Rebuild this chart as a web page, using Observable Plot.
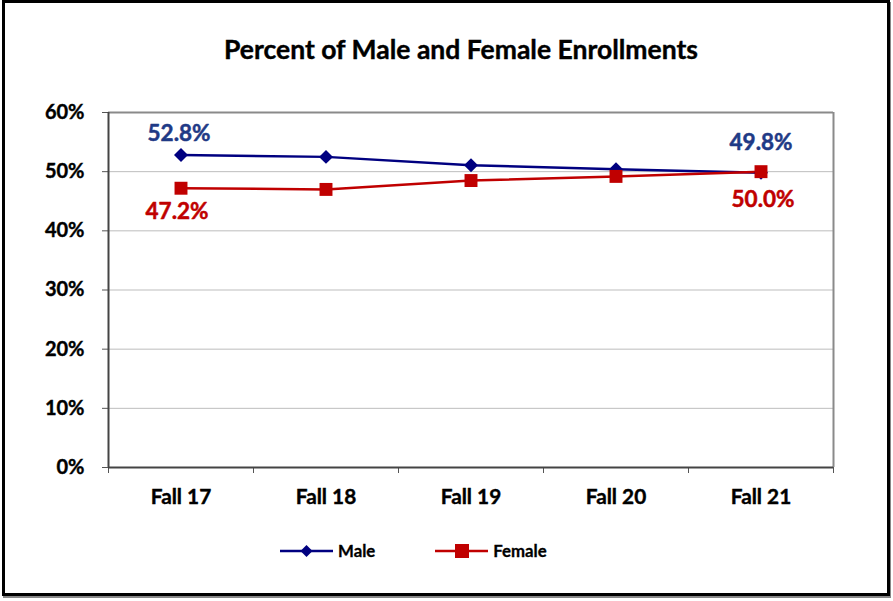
<!DOCTYPE html>
<html>
<head>
<meta charset="utf-8">
<script src="https://cdn.jsdelivr.net/npm/d3@7"></script>
<script src="https://cdn.jsdelivr.net/npm/@observablehq/plot@0.6"></script>
<style>
  html, body { margin: 0; padding: 0; background: #fff; }
  #wrap { position: relative; width: 893px; height: 601px; overflow: hidden; font-family: Lato, "Open Sans", sans-serif; }
  #frame { position: absolute; left: 2px; top: 0px; width: 882px; height: 590px; border: 3px solid #000; box-shadow: 1px 2px 0 #888; }
  #title { position: absolute; left: 0; width: 922px; top: 33px; text-align: center; font-weight: 700; font-size: 26.5px; color: #000; -webkit-text-stroke: 0.4px #000; }
  #legend { position: absolute; left: 280px; top: 540px; display: flex; gap: 60px; font-weight: 700; font-size: 16.8px; color: #000; -webkit-text-stroke: 0.3px #000; }
  .item { display: flex; align-items: center; gap: 5px; }
  #chart { position: absolute; left: 0; top: 0; }
</style>
</head>
<body>
<div id="wrap">
  <div id="chart"></div>
  <div id="frame"></div>
  <div id="title">Percent of Male and Female Enrollments</div>
  <div id="legend"></div>
</div>
<script>
const categories = ["Fall 17", "Fall 18", "Fall 19", "Fall 20", "Fall 21"];
const male = [0.528, 0.525, 0.511, 0.504, 0.498];
const female = [0.472, 0.470, 0.485, 0.492, 0.500];
const yTicks = [0, 0.1, 0.2, 0.3, 0.4, 0.5, 0.6];
const seriesNames = ["Male", "Female"];
const colors = {Male: "#000080", Female: "#C00000"};
const labelColors = {Male: "#1F3A86", Female: "#C00000"};

const rows = [];
categories.forEach((c, i) => {
  rows.push({series: "Male", i, v: male[i]});
  rows.push({series: "Female", i, v: female[i]});
});
const last = categories.length - 1;
const boundaries = d3.range(-0.5, categories.length, 1);
const idx = d3.range(categories.length);
const fmt = d3.format(".1%");
const labelStyle = {fontSize: 22.5, fontWeight: 700, strokeWidth: 0.5};

const chart = Plot.plot({
  width: 893,
  height: 601,
  marginLeft: 108,
  marginRight: 60,
  marginTop: 112,
  marginBottom: 134,
  style: {fontFamily: "Lato, 'Open Sans', sans-serif", background: "transparent"},
  x: {domain: [-0.5, categories.length - 0.5]},
  y: {domain: [0, 0.6]},
  marks: [
    Plot.gridY(yTicks.slice(1, -1), {stroke: "#bdbdbd", strokeOpacity: 1, strokeWidth: 1}),
    Plot.ruleY([0.6], {stroke: "#8a8a8a", strokeWidth: 2}),
    Plot.ruleX([categories.length - 0.5], {stroke: "#8a8a8a", strokeWidth: 2}),
    Plot.axisY({ticks: yTicks, tickFormat: d3.format(".0%"), tickSize: 6, tickPadding: 18, fontSize: 20, fontWeight: 700, fill: "#000", stroke: "#555", label: null}),
    Plot.axisX({ticks: boundaries, tickFormat: () => "", tickSize: 6, stroke: "#555", label: null}),
    Plot.axisX({ticks: idx, tickFormat: i => categories[i], tickSize: 0, tickPadding: 22, fontSize: 20.8, fontWeight: 700, fill: "#000", label: null}),
    Plot.ruleX([-0.5], {stroke: "#444", strokeWidth: 2}),
    Plot.ruleY([0], {stroke: "#444", strokeWidth: 2}),
    Plot.line(rows, {x: "i", y: "v", z: "series", stroke: d => colors[d.series], strokeWidth: 2.5}),
    Plot.dot(rows.filter(d => d.series === "Male"), {x: "i", y: "v", symbol: "diamond2", r: 6.3, fill: colors.Male, stroke: null}),
    Plot.dot(rows.filter(d => d.series === "Female"), {x: "i", y: "v", symbol: "square", r: 7.3, fill: colors.Female, stroke: null}),
    Plot.text(rows.filter(d => d.series === "Male" && d.i === 0), {x: "i", y: "v", text: d => fmt(d.v), dy: -21, dx: -2, fill: labelColors.Male, stroke: labelColors.Male, ...labelStyle}),
    Plot.text(rows.filter(d => d.series === "Male" && d.i === last), {x: "i", y: "v", text: d => fmt(d.v), dy: -30, fill: labelColors.Male, stroke: labelColors.Male, ...labelStyle}),
    Plot.text(rows.filter(d => d.series === "Female" && d.i === 0), {x: "i", y: "v", text: d => fmt(d.v), dy: 24, dx: -4, fill: labelColors.Female, stroke: labelColors.Female, ...labelStyle}),
    Plot.text(rows.filter(d => d.series === "Female" && d.i === last), {x: "i", y: "v", text: d => fmt(d.v), dy: 28, dx: 2, fill: labelColors.Female, stroke: labelColors.Female, ...labelStyle})
  ]
});
chart.querySelectorAll("g[aria-label='y-axis tick label'] text, g[aria-label='x-axis tick label'] text").forEach(t => {
  t.setAttribute("stroke", "#000"); t.setAttribute("stroke-width", "0.4");
});
document.getElementById("chart").appendChild(chart);

const legend = document.getElementById("legend");
seriesNames.forEach(name => {
  const item = document.createElement("div");
  item.className = "item";
  const marker = name === "Male"
    ? `<path d="M26.5,1 L32.5,7 L26.5,13 L20.5,7 Z" fill="${colors[name]}"/>`
    : `<rect x="20" y="0" width="14" height="14" fill="${colors[name]}"/>`;
  item.innerHTML = `<svg width="53" height="14" style="overflow:visible"><line x1="0" x2="53" y1="7" y2="7" stroke="${colors[name]}" stroke-width="2.5"/>${marker}</svg><span>${name}</span>`;
  legend.appendChild(item);
});
</script>
</body>
</html>
